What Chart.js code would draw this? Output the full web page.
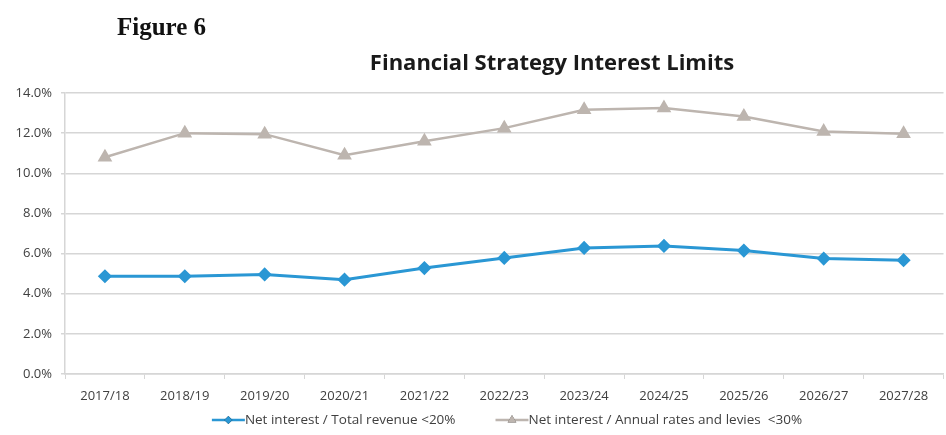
<!DOCTYPE html>
<html>
<head>
<meta charset="utf-8">
<script src="https://cdn.jsdelivr.net/npm/chart.js@4.4.0/dist/chart.umd.min.js"></script>
<style>
    html, body { margin: 0; padding: 0; background: #fff; overflow: hidden; }
    #wrap { position: relative; width: 946px; height: 435px; overflow: hidden; }
    #chartBox { position: absolute; left: 0; top: 0; width: 952px; height: 435px; }
    #figLabel {
        position: absolute; left: 117px; top: 13px;
        font: bold 25px "Liberation Serif", "Times New Roman", serif; color: #111;
    }
    #chartTitle {
        position: absolute; left: 552px; top: 46px; transform: translateX(-50%);
        font: bold 22px "Open Sans", sans-serif; color: #1a1a1a; white-space: nowrap;
        letter-spacing: 0;
    }
</style>
</head>
<body>
<div id="wrap">
    <div id="chartBox"><canvas id="interestChart"></canvas></div>
    <div id="figLabel">Figure 6</div>
    <div id="chartTitle">Financial Strategy Interest Limits</div>
</div>
<script>
// Financial years and interest ratios (%)
const years = ["2017/18", "2018/19", "2019/20", "2020/21", "2021/22", "2022/23",
    "2023/24", "2024/25", "2025/26", "2026/27", "2027/28"];
const revenueRatio = [4.87, 4.87, 4.96, 4.7, 5.28, 5.78, 6.28, 6.38, 6.15, 5.75, 5.67];
const ratesRatio = [10.8, 12.0, 11.95, 10.9, 11.6, 12.25, 13.17, 13.25, 12.83, 12.08, 11.97];
const seriesNames = ["Net interest / Total revenue <20%", "Net interest / Annual rates and levies  <30%"];
const yMax = 14;
const yStep = 2;

const blue = "#2a97d4";
const grey = "#bdb5af";
const gridColor = "#d6d6d6";
const textColor = "#404040";

const tickFont = { family: "'Open Sans', sans-serif", size: 13 };

// Excel-style key: short line with the series marker, then the name
const seriesKey = {
    id: "seriesKey",
    afterDraw(chart) {
        const c = chart.ctx;
        const centerX = 507;
        const y = 420;
        const swatchW = 33;
        const gap = 40;
        c.save();
        c.font = "13.5px 'Open Sans', sans-serif";
        const items = chart.data.datasets.map((ds) => ({
            ds,
            w: swatchW + c.measureText(ds.label).width,
        }));
        const total = items.reduce((s, it) => s + it.w, 0) + gap * (items.length - 1);
        let x = centerX - total / 2;
        items.forEach(({ ds, w }) => {
            c.strokeStyle = ds.borderColor;
            c.lineWidth = 2.5;
            c.beginPath();
            c.moveTo(x, y);
            c.lineTo(x + swatchW, y);
            c.stroke();
            Chart.helpers.drawPoint(c, {
                pointStyle: ds.pointStyle,
                radius: ds.pointRadius - 1,
                borderWidth: 0,
            }, x + swatchW / 2, y);
            c.fillStyle = ds.borderColor;
            c.fill();
            c.fillStyle = textColor;
            c.textBaseline = "middle";
            c.fillText(ds.label, x + swatchW, y);
            x += w + gap;
        });
        c.restore();
    },
};

const ctx = document.getElementById("interestChart").getContext("2d");
new Chart(ctx, {
    type: "line",
    data: {
        labels: years,
        datasets: [
            {
                label: seriesNames[0],
                data: revenueRatio,
                borderColor: blue,
                backgroundColor: blue,
                borderWidth: 3,
                pointStyle: "rectRot",
                pointRadius: 5,
                pointHoverRadius: 5,
                tension: 0,
            },
            {
                label: seriesNames[1],
                data: ratesRatio,
                borderColor: grey,
                backgroundColor: grey,
                borderWidth: 2.5,
                pointStyle: "triangle",
                pointRadius: 6,
                pointHoverRadius: 6,
                tension: 0,
            },
        ],
    },
    options: {
        responsive: true,
        maintainAspectRatio: false,
        animation: false,
        layout: {
            padding: { top: 93, left: 0, right: 0, bottom: 27 },
        },
        plugins: {
            title: { display: false },
            tooltip: { enabled: false },
            legend: { display: false },
        },
        scales: {
            x: {
                offset: true,
                grid: {
                    offset: true,
                    drawOnChartArea: false,
                    drawTicks: true,
                    tickLength: 5,
                    color: gridColor,
                },
                border: { color: gridColor, width: 1.5 },
                ticks: { color: textColor, font: tickFont, padding: 9, maxRotation: 0 },
                afterFit: (scale) => { scale.height = 34; },
            },
            y: {
                min: 0,
                max: yMax,
                ticks: {
                    stepSize: yStep,
                    color: textColor,
                    font: tickFont,
                    padding: 9,
                    callback: (v) => v.toFixed(1) + "%",
                },
                grid: { color: gridColor, lineWidth: 1.5, tickLength: 4 },
                border: { color: gridColor, width: 1.5 },
                afterFit: (scale) => { scale.width = 65; },
            },
        },
    },
    plugins: [seriesKey],
});
</script>
</body>
</html>
